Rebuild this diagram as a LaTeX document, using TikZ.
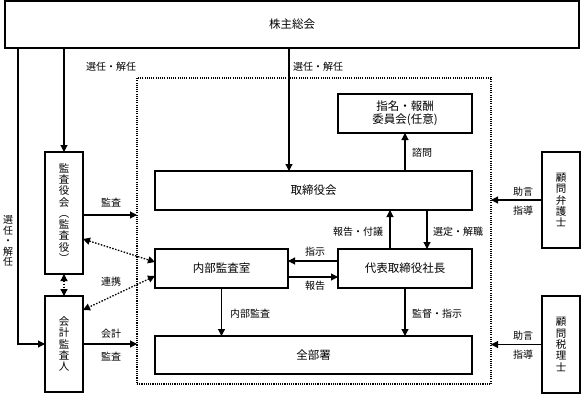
\documentclass[tikz,border=0pt]{standalone}
\usepackage{fontspec}
\setmainfont{Noto Sans CJK JP}
\usetikzlibrary{arrows.meta}
\begin{document}
\begin{tikzpicture}[x=1pt,y=-1pt,
  box/.style={draw, line width=1.1pt, inner sep=0pt, outer sep=0pt, font=\fontsize{11.5}{13.5}\selectfont},
  vbox/.style={draw, line width=1.1pt, inner sep=0pt, outer sep=0pt, align=center, font=\fontsize{10.5}{11.3}\selectfont},
  lab/.style={font=\fontsize{10}{11}\selectfont, inner sep=0pt},
  arr/.style={line width=1.1pt, -{Triangle[length=7pt,width=7pt]}},
  darr/.style={line width=1.3pt, dash pattern=on 1.5pt off 1.5pt, {Triangle[length=7pt,width=7pt]}-{Triangle[length=7pt,width=7pt]}},
  frm/.style={draw, line width=1.2pt, dash pattern=on 1.1pt off 1.1pt, inner sep=0pt, outer sep=0pt}
]
\useasboundingbox (0,0) rectangle (581,394);
% frame
\node[frm, minimum width=354pt, minimum height=306pt] (frame) at (314,231) {};
% boxes
\node[box, minimum width=574pt, minimum height=47pt] (top) at (292,24.5) {株主総会};
\node[vbox, minimum width=38pt, minimum height=122pt] (kansa) at (64,213) {監\\査\\役\\会\\︵\\監\\査\\役\\︶};
\node[vbox, minimum width=38pt, minimum height=96pt] (kaikei) at (64,344) {会\\計\\監\\査\\人};
\node[vbox, minimum width=38pt, minimum height=96pt] (bengo) at (561,200) {顧\\問\\弁\\護\\士};
\node[vbox, minimum width=38pt, minimum height=97pt] (zeiri) at (561,344.5) {顧\\問\\税\\理\\士};
\node[box, align=center, minimum width=134pt, minimum height=39pt] (shimei) at (405,113.5) {指名・報酬\\委員会(任意)};
\node[box, minimum width=317pt, minimum height=39pt] (tori) at (313.5,190.5) {取締役会};
\node[box, minimum width=133pt, minimum height=39pt] (naibu) at (221.5,268.5) {内部監査室};
\node[box, minimum width=134pt, minimum height=39pt] (daihyo) at (405,268.5) {代表取締役社長};
\node[box, minimum width=317pt, minimum height=38pt] (zen) at (313.5,355) {全部署};
% helper coordinates
\coordinate (L) at (18,0);
\coordinate (M) at (289,0);
\coordinate (kA) at (0,215);
\coordinate (h1) at (390,0);
\coordinate (h2) at (427,0);
\coordinate (s1) at (0,261);
\coordinate (s2) at (0,277);
% connectors
\draw[arr] (top.south -| kansa.north) -- (kansa.north);
\draw[arr] (top.south -| L) |- (kaikei.west);
\draw[arr] (top.south -| M) -- (M |- tori.north);
\draw[arr] (kansa.east |- kA) -- (frame.west |- kA);
\draw[arr] (kaikei.east) -- (frame.west |- kaikei.east);
\draw[darr] ([yshift=-26pt]kansa.east) -- ([yshift=6.5pt]naibu.west);
\draw[darr] ([yshift=-7.5pt]naibu.west) -- ([yshift=34pt]kaikei.east);
\draw[darr] (kansa.south) -- (kaikei.north);
\draw[arr] (shimei.south |- tori.north) -- (shimei.south);
\draw[arr] (h1 |- daihyo.north) -- (h1 |- tori.south);
\draw[arr] (h2 |- tori.south) -- (h2 |- daihyo.north);
\draw[arr] (daihyo.west |- s1) -- (naibu.east |- s1);
\draw[arr] (naibu.east |- s2) -- (daihyo.west |- s2);
\draw[arr] (naibu.south) -- (naibu.south |- zen.north);
\draw[arr] (daihyo.south) -- (daihyo.south |- zen.north);
\draw[arr] (bengo.west) -- (frame.east |- bengo.west);
\draw[arr] (zeiri.west) -- (frame.east |- zeiri.west);
% labels
\node[lab] (l1) at (111,67) {選任・解任};
\node[lab] (l2) at (318,67) {選任・解任};
\node[lab, align=center, font=\fontsize{10}{10.5}\selectfont] (l3) at (8,241) {選\\任\\・\\解\\任};
\node[lab] (l4) at (111,203) {監査};
\node[lab] (l5) at (111,282) {連携};
\node[lab] (l6) at (111,334) {会計};
\node[lab] (l7) at (111,357) {監査};
\node[lab] (l8) at (422,153) {諮問};
\node[lab] (l9) at (358,232) {報告・付議};
\node[lab] (l10) at (458,232) {選定・解職};
\node[lab] (l11) at (315,252) {指示};
\node[lab] (l12) at (315,286) {報告};
\node[lab] (l13) at (250,314) {内部監査};
\node[lab] (l14) at (437,314) {監督・指示};
\node[lab] (l15) at (523,192) {助言};
\node[lab] (l16) at (523,211) {指導};
\node[lab] (l17) at (523,336) {助言};
\node[lab] (l18) at (523,355) {指導};
\end{tikzpicture}
\end{document}
